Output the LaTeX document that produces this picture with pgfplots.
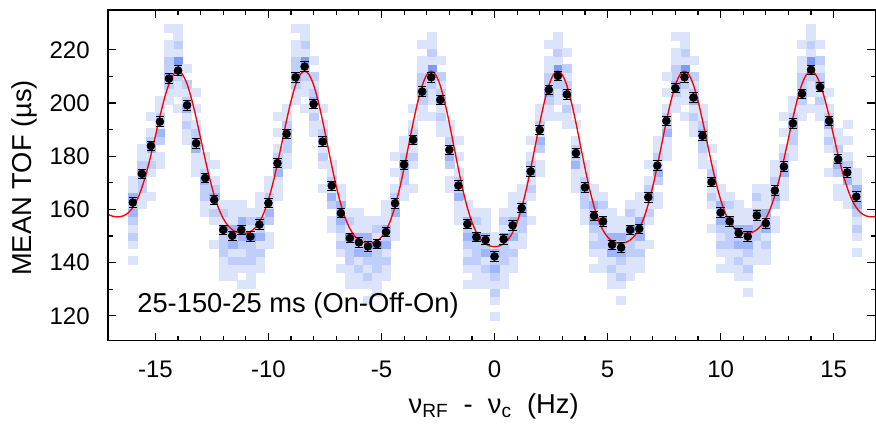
\documentclass[border=0pt]{standalone}
\usepackage{fontspec}
\setmainfont{Liberation Sans}
\usepackage{pgfplots}
\pgfplotsset{compat=1.18}
\usepackage{pgfplotstable}
\usetikzlibrary{calc}

% heat map: column x, centre bin c, levels for bins c+3*(j-8), j=1..14
\pgfplotstableread{
x c a1 a2 a3 a4 a5 a6 a7 a8 a9 a10 a11 a12 a13 a14
-16.0 162 1 0 1 2 1 2 3 2 3 1 1 0 0 0
-15.6 174 0 0 0 1 1 2 2 3 2 1 1 0 0 0
-15.2 183 0 1 0 0 1 2 1 3 2 1 0 1 0 0
-14.8 192 0 0 1 1 0 2 3 1 2 1 1 0 0 0
-14.4 210 0 0 0 0 1 1 2 3 2 2 1 1 0 1
-14.0 213 0 0 1 0 1 1 2 2 4 1 2 1 1 0
-13.6 198 0 0 0 1 1 2 1 3 2 1 2 0 1 0
-13.2 186 0 0 0 1 1 1 3 2 2 1 0 1 0 1
-12.8 171 0 0 0 1 1 2 2 3 2 1 1 0 0 0
-12.4 165 0 1 0 0 1 2 1 3 2 1 0 1 0 0
-12.0 153 0 1 1 1 2 2 2 4 1 2 1 0 0 0
-11.6 150 0 0 1 1 2 1 3 2 3 1 1 1 0 0
-11.2 153 1 0 1 2 1 2 3 2 3 1 1 0 0 0
-10.8 150 0 1 1 1 2 2 2 4 1 2 1 0 0 0
-10.4 153 0 0 1 1 2 1 3 2 3 1 1 1 0 0
-10.0 162 0 0 1 1 0 2 3 1 2 1 1 0 0 0
-9.6 177 0 0 0 1 1 1 3 2 2 1 0 1 0 1
-9.2 189 0 0 0 1 1 2 2 3 2 1 1 0 0 0
-8.8 210 0 0 0 0 1 1 2 3 2 2 1 1 0 1
-8.4 213 0 0 1 0 1 1 2 2 4 1 2 1 1 0
-8.0 201 0 0 0 1 1 2 1 3 2 1 2 0 1 0
-7.6 186 0 1 0 0 1 2 1 3 2 1 0 1 0 0
-7.2 168 0 0 1 1 0 2 3 1 2 1 1 0 0 0
-6.8 159 1 0 1 2 1 2 3 2 3 1 1 0 0 0
-6.4 150 0 1 1 1 2 2 2 4 1 2 1 0 0 0
-6.0 147 0 0 1 1 2 1 3 2 3 1 1 1 0 0
-5.6 147 1 0 1 2 1 2 3 2 3 1 1 0 0 0
-5.2 147 0 1 1 1 2 2 2 4 1 2 1 0 0 0
-4.8 150 0 0 1 1 2 1 3 2 3 1 1 1 0 0
-4.4 162 0 0 0 1 1 1 3 2 2 1 0 1 0 1
-4.0 177 0 0 0 1 1 2 2 3 2 1 1 0 0 0
-3.6 186 0 1 0 0 1 2 1 3 2 1 0 1 0 0
-3.2 204 0 0 0 0 1 1 2 3 2 2 1 1 0 1
-2.8 210 0 0 1 0 1 1 2 2 4 1 2 1 1 0
-2.4 201 0 0 0 1 1 2 1 3 2 1 2 0 1 0
-2.0 183 0 0 1 1 0 2 3 1 2 1 1 0 0 0
-1.6 168 0 0 0 1 1 1 3 2 2 1 0 1 0 1
-1.2 153 1 0 1 2 1 2 3 2 3 1 1 0 0 0
-0.8 150 0 1 1 1 2 2 2 4 1 2 1 0 0 0
-0.4 147 0 0 1 1 2 1 3 2 3 1 1 1 0 0
0.0 141 1 0 1 2 1 2 3 2 3 1 1 0 0 0
0.4 150 0 1 1 1 2 2 2 4 1 2 1 0 0 0
0.8 153 0 0 1 1 2 1 3 2 3 1 1 1 0 0
1.2 159 0 0 0 1 1 2 2 3 2 1 1 0 0 0
1.6 174 0 1 0 0 1 2 1 3 2 1 0 1 0 0
2.0 189 0 0 1 1 0 2 3 1 2 1 1 0 0 0
2.4 204 0 0 0 0 1 1 2 3 2 2 1 1 0 1
2.8 210 0 0 1 0 1 1 2 2 4 1 2 1 1 0
3.2 204 0 0 0 1 1 2 1 3 2 1 2 0 1 0
3.6 180 0 0 0 1 1 1 3 2 2 1 0 1 0 1
4.0 168 0 0 0 1 1 2 2 3 2 1 1 0 0 0
4.4 159 1 0 1 2 1 2 3 2 3 1 1 0 0 0
4.8 156 0 1 1 1 2 2 2 4 1 2 1 0 0 0
5.2 147 0 0 1 1 2 1 3 2 3 1 1 1 0 0
5.6 147 1 0 1 2 1 2 3 2 3 1 1 0 0 0
6.0 153 0 1 1 1 2 2 2 4 1 2 1 0 0 0
6.4 153 0 0 1 1 2 1 3 2 3 1 1 1 0 0
6.8 165 0 1 0 0 1 2 1 3 2 1 0 1 0 0
7.2 177 0 0 1 1 0 2 3 1 2 1 1 0 0 0
7.6 192 0 0 0 1 1 1 3 2 2 1 0 1 0 1
8.0 207 0 0 0 0 1 1 2 3 2 2 1 1 0 1
8.4 210 0 0 1 0 1 1 2 2 4 1 2 1 1 0
8.8 201 0 0 0 1 1 2 1 3 2 1 2 0 1 0
9.2 189 0 0 0 1 1 2 2 3 2 1 1 0 0 0
9.6 171 0 1 0 0 1 2 1 3 2 1 0 1 0 0
10.0 159 1 0 1 2 1 2 3 2 3 1 1 0 0 0
10.4 156 0 1 1 1 2 2 2 4 1 2 1 0 0 0
10.8 150 0 0 1 1 2 1 3 2 3 1 1 1 0 0
11.2 150 1 0 1 2 1 2 3 2 3 1 1 0 0 0
11.6 159 0 1 1 1 2 2 2 4 1 2 1 0 0 0
12.0 156 0 0 1 1 2 1 3 2 3 1 1 1 0 0
12.4 168 0 0 1 1 0 2 3 1 2 1 1 0 0 0
12.8 177 0 0 0 1 1 1 3 2 2 1 0 1 0 1
13.2 192 0 0 0 1 1 2 2 3 2 1 1 0 0 0
13.6 204 0 0 0 0 1 1 2 3 2 2 1 1 0 1
14.0 213 0 0 1 0 1 1 2 2 4 1 2 1 1 0
14.4 207 0 0 0 1 1 2 1 3 2 1 2 0 1 0
14.8 192 0 1 0 0 1 2 1 3 2 1 0 1 0 0
15.2 180 0 0 1 1 0 2 3 1 2 1 1 0 0 0
15.6 174 0 0 0 1 1 1 3 2 2 1 0 1 0 1
16.0 165 1 0 1 2 1 2 3 2 3 1 1 0 0 0
}\heat

\pgfplotstableread{
x y
-16.0 162.6
-15.6 173.4
-15.2 183.9
-14.8 193.0
-14.4 209.2
-14.0 212.2
-13.6 199.2
-13.2 184.9
-12.8 171.8
-12.4 163.6
-12.0 152.3
-11.6 150.1
-11.2 152.3
-10.8 149.8
-10.4 154.3
-10.0 162.4
-9.6 177.4
-9.2 188.4
-8.8 209.7
-8.4 213.7
-8.0 199.6
-7.6 185.5
-7.2 168.9
-6.8 158.6
-6.4 149.2
-6.0 147.6
-5.6 146.1
-5.2 147.0
-4.8 151.5
-4.4 162.3
-4.0 176.8
-3.6 186.2
-3.2 204.3
-2.8 209.7
-2.4 201.2
-2.0 182.4
-1.6 169.0
-1.2 154.5
-0.8 149.6
-0.4 148.5
0.0 142.3
0.4 148.8
0.8 154.0
1.2 160.5
1.6 174.3
2.0 189.9
2.4 205.0
2.8 210.2
3.2 203.2
3.6 181.2
4.0 168.3
4.4 157.6
4.8 155.5
5.2 146.7
5.6 145.7
6.0 152.3
6.4 152.7
6.8 164.6
7.2 176.5
7.6 193.3
8.0 205.6
8.4 209.7
8.8 202.1
9.2 187.7
9.6 170.3
10.0 158.8
10.4 155.5
10.8 151.1
11.2 149.8
11.6 157.7
12.0 154.8
12.4 167.1
12.8 176.1
13.2 192.4
13.6 203.5
14.0 212.5
14.4 206.0
14.8 193.3
15.2 178.9
15.6 173.9
16.0 164.8
}\tofdata

\pgfplotstableread{
x y
-17.2 158.70
-17.0 157.76
-16.8 157.29
-16.6 157.23
-16.4 157.66
-16.2 158.74
-16.0 160.71
-15.8 163.80
-15.6 168.14
-15.4 173.74
-15.2 180.39
-15.0 187.68
-14.8 195.03
-14.6 201.78
-14.4 207.22
-14.2 210.77
-14.0 212.00
-13.8 210.76
-13.6 207.15
-13.4 201.53
-13.2 194.50
-13.0 186.72
-12.8 178.89
-12.6 171.62
-12.4 165.35
-12.2 160.33
-12.0 156.59
-11.8 154.01
-11.6 152.37
-11.4 151.42
-11.2 151.02
-11.0 151.07
-10.8 151.66
-10.6 152.97
-10.4 155.27
-10.2 158.79
-10.0 163.68
-9.8 169.92
-9.6 177.29
-9.4 185.34
-9.2 193.44
-9.0 200.83
-8.8 206.79
-8.6 210.66
-8.4 212.00
-8.2 210.65
-8.0 206.75
-7.8 200.69
-7.6 193.12
-7.4 184.77
-7.2 176.40
-7.0 168.65
-6.8 162.00
-6.6 156.70
-6.4 152.80
-6.2 150.14
-6.0 148.49
-5.8 147.59
-5.6 147.25
-5.4 147.41
-5.2 148.14
-5.0 149.62
-4.8 152.13
-4.6 155.93
-4.4 161.16
-4.2 167.80
-4.0 175.60
-3.8 184.08
-3.6 192.59
-3.4 200.34
-3.2 206.57
-3.0 210.60
-2.8 212.00
-2.6 210.60
-2.4 206.56
-2.2 200.29
-2.0 192.48
-1.8 183.89
-1.6 175.30
-1.4 167.37
-1.2 160.60
-1.0 155.24
-0.8 151.31
-0.6 148.67
-0.4 147.08
-0.2 146.25
0.0 146.00
0.2 146.25
0.4 147.08
0.6 148.67
0.8 151.31
1.0 155.24
1.2 160.60
1.4 167.37
1.6 175.30
1.8 183.89
2.0 192.48
2.2 200.29
2.4 206.56
2.6 210.60
2.8 212.00
3.0 210.60
3.2 206.57
3.4 200.34
3.6 192.59
3.8 184.08
4.0 175.60
4.2 167.80
4.4 161.16
4.6 155.93
4.8 152.13
5.0 149.62
5.2 148.14
5.4 147.41
5.6 147.25
5.8 147.59
6.0 148.49
6.2 150.14
6.4 152.80
6.6 156.70
6.8 162.00
7.0 168.65
7.2 176.40
7.4 184.77
7.6 193.12
7.8 200.69
8.0 206.75
8.2 210.65
8.4 212.00
8.6 210.66
8.8 206.79
9.0 200.83
9.2 193.44
9.4 185.34
9.6 177.29
9.8 169.92
10.0 163.68
10.2 158.79
10.4 155.27
10.6 152.97
10.8 151.66
11.0 151.07
11.2 151.02
11.4 151.42
11.6 152.37
11.8 154.01
12.0 156.59
12.2 160.33
12.4 165.35
12.6 171.62
12.8 178.89
13.0 186.72
13.2 194.50
13.4 201.53
13.6 207.15
13.8 210.76
14.0 212.00
14.2 210.77
14.4 207.22
14.6 201.78
14.8 195.03
15.0 187.68
15.2 180.39
15.4 173.74
15.6 168.14
15.8 163.80
16.0 160.71
16.2 158.74
16.4 157.66
16.6 157.23
16.8 157.29
17.0 157.76
17.2 158.70
}\fitcurve

\begin{document}
\begin{tikzpicture}
\begin{axis}[
  scale only axis, width=576pt, height=248.25pt,
  xmin=-17.1, xmax=16.85, ymin=110.6, ymax=235,
  axis on top, clip marker paths=true,
  xtick={-15,-10,...,15}, minor x tick num=4,
  ytick={120,140,...,220}, minor y tick num=1,
  major tick length=6pt, minor tick length=3.5pt,
  every tick/.style={black, line width=0.9pt},
  axis line style={line width=1pt},
  /pgf/number format/assume math mode=true,
  ticklabel style={font=\fontsize{18}{20}\selectfont, inner sep=0pt},
  xticklabel style={anchor=base, yshift=-27.75pt},
  yticklabel style={anchor=east, xshift=-13.5pt},
  xlabel={ν\textsubscript{RF}\ \ -\ \ ν\textsubscript{c}\ \ (Hz)},
  ylabel={MEAN TOF (µs)},
  every axis x label/.style={at={(axis description cs:0.5026,-0.2205)}, anchor=base, font=\fontsize{20.5}{24}\selectfont},
  every axis y label/.style={at={(axis description cs:-0.0993,0.492)}, anchor=base, rotate=90, font=\fontsize{20.5}{24}\selectfont},
  colormap={tofmap}{rgb255=(255,255,255) rgb255=(220,228,252) rgb255=(192,206,251) rgb255=(160,182,250) rgb255=(125,155,250) rgb255=(90,130,250)},
  point meta min=0, point meta max=5,
]
\pgfplotsinvokeforeach{1,...,14}{
  \addplot[scatter, only marks, mark=square*, mark size=2.99pt,
    scatter/use mapped color={draw=mapped color, fill=mapped color},
    mark options={xscale=1.134, line width=0.3pt},
    point meta=\thisrow{a#1},
    restrict expr to domain={\thisrow{a#1}}{0.5:9}]
    table[x=x, y expr=\thisrow{c}+3*(#1-8)] {\heat};
}
\addplot[red, line width=1pt, smooth] table[x=x, y=y] {\fitcurve};
\addplot[only marks, mark=*, mark size=3pt, black,
  error bars/.cd, y dir=both, y fixed=1.8,
  error bar style={line width=0.7pt, black},
  error mark options={rotate=90, mark size=3.2pt, line width=0.7pt, black}]
  table[x=x, y=y] {\tofdata};
\node[anchor=base west, inner sep=0pt, font=\fontsize{20.5}{24}\selectfont] at (axis cs:-15.81,121.1) {25-150-25 ms (On-Off-On)};
\end{axis}
\pgfresetboundingbox
\path[use as bounding box] ($(current axis.south west)+(-81pt,-62.25pt)$) rectangle ($(current axis.north east)+(0.4pt,7.5pt)$);
\end{tikzpicture}
\end{document}
